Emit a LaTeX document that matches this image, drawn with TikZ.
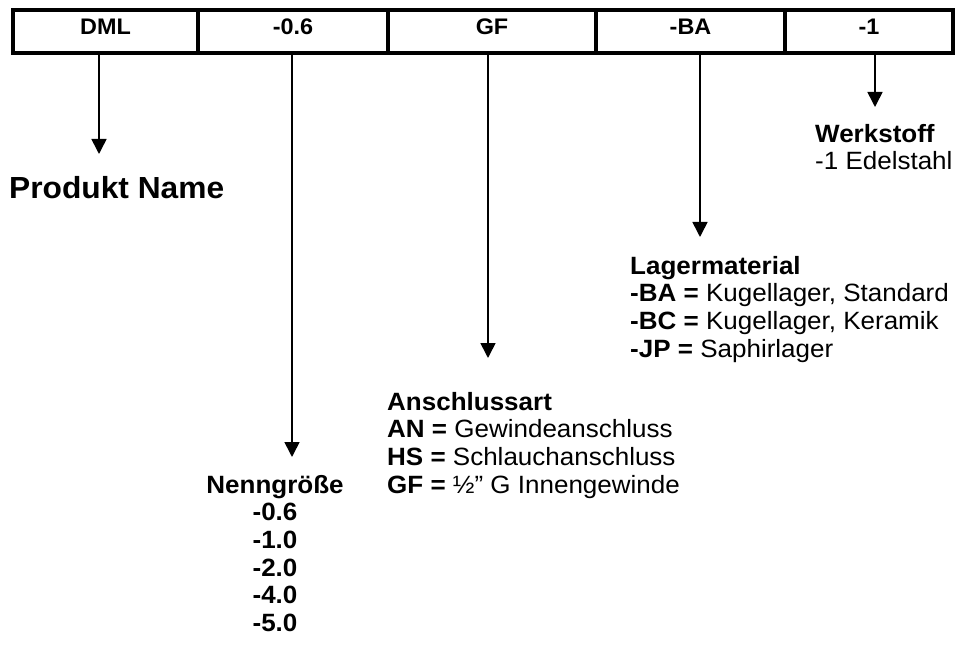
\documentclass[tikz,border=0pt]{standalone}
\usepackage{fontspec}
\setmainfont[FakeStretch=1.04]{Liberation Sans}
\usetikzlibrary{arrows.meta}
\begin{document}
\begin{tikzpicture}[x=1pt,y=-1pt,
  cell/.style={draw,line width=3.3pt,inner sep=0pt,minimum height=43pt,
    text height=16pt,text depth=10pt,font=\fontsize{22.5}{24}\selectfont\bfseries},
  legend/.style={inner sep=0pt,anchor=north west,align=left,font=\fontsize{25}{27.7}\selectfont},
  pointer/.style={line width=1.6pt,-{Triangle[width=15pt,length=15pt]}}]
\useasboundingbox (0,0) rectangle (959,663);
% code bar: one cell per part of the order code
\node[cell,minimum width=185pt] (c1) at (105.5,31.5) {DML};
\node[cell,minimum width=190pt] (c2) at (293,31.5) {-0.6};
\node[cell,minimum width=208pt] (c3) at (492,31.5) {GF};
\node[cell,minimum width=189pt] (c4) at (690.5,31.5) {-BA};
\node[cell,minimum width=168pt] (c5) at (869,31.5) {-1};
% pointer ends
\coordinate (e1) at (99,154);
\coordinate (e2) at (292,457);
\coordinate (e3) at (488,358);
\coordinate (e4) at (700,237);
\coordinate (e5) at (875,107);
\draw[pointer] (c1.south -| e1) -- (e1);
\draw[pointer] (c2.south -| e2) -- (e2);
\draw[pointer] (c3.south -| e3) -- (e3);
\draw[pointer] (c4.south -| e4) -- (e4);
\draw[pointer] (c5.south -| e5) -- (e5);
% explanations
\node[inner sep=0pt,anchor=base west,font=\fontsize{30.5}{33}\selectfont\bfseries] (name) at (9,199) {Produkt Name};
\node[legend] (werk) at (815,123.8) {\textbf{Werkstoff}\\-1 Edelstahl};
\node[legend] (lager) at (630,255.8) {\textbf{Lagermaterial}\\\textbf{-BA =} Kugellager, Standard\\\textbf{-BC =} Kugellager, Keramik\\\textbf{-JP =} Saphirlager};
\node[legend] (ansch) at (387,391.8) {\textbf{Anschlussart}\\\textbf{AN =} Gewindeanschluss\\\textbf{HS =} Schlauchanschluss\\\textbf{GF =} ½” G Innengewinde};
\node[legend,anchor=north,align=center,font=\fontsize{25}{27.7}\selectfont\bfseries] (nenn) at (275,474.8) {Nenngröße\\-0.6\\-1.0\\-2.0\\-4.0\\-5.0};
\end{tikzpicture}
\end{document}
